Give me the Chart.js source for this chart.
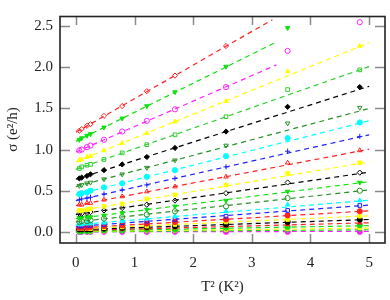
<!DOCTYPE html>
<html>
<head>
<meta charset="UTF-8">
<script src="https://cdn.jsdelivr.net/npm/chart.js"></script>
<style>
  body { margin: 0; background: #fff; }
  #wrap { width: 390px; height: 300px; }
</style>
</head>
<body>
<div id="wrap"><canvas id="c" width="390" height="300"></canvas></div>
<script>
// T^2 values (K^2) where points were measured
const t2 = [0.06, 0.10, 0.19, 0.25, 0.48, 0.79, 1.21, 1.69, 2.56, 3.61, 4.84];

// sigma (e^2/h), one row per curve, top to bottom
const sigma = [
  [1.23, 1.25, 1.29, 1.31, 1.41, 1.53, 1.71, 1.90, 2.26],
  [1.12, 1.14, 1.17, 1.19, 1.27, 1.38, 1.53, 1.70, 2.01, 2.48],
  [0.99, 1.00, 1.03, 1.05, 1.12, 1.22, 1.35, 1.49, 1.76, 2.20, 2.55],
  [0.87, 0.88, 0.91, 0.92, 0.99, 1.08, 1.20, 1.34, 1.59, 1.95, 2.26],
  [0.77, 0.79, 0.81, 0.82, 0.88, 0.96, 1.06, 1.18, 1.40, 1.73, 1.97],
  [0.65, 0.66, 0.68, 0.70, 0.75, 0.82, 0.91, 1.02, 1.22, 1.52, 1.76],
  [0.56, 0.57, 0.59, 0.60, 0.64, 0.70, 0.78, 0.87, 1.05, 1.32, 1.51],
  [0.46, 0.47, 0.48, 0.50, 0.54, 0.59, 0.67, 0.75, 0.92, 1.14, 1.33],
  [0.39, 0.40, 0.41, 0.42, 0.46, 0.51, 0.57, 0.65, 0.79, 0.98, 1.16],
  [0.33, 0.33, 0.35, 0.35, 0.39, 0.43, 0.49, 0.55, 0.67, 0.84, 0.99],
  [0.26, 0.26, 0.27, 0.28, 0.31, 0.34, 0.40, 0.45, 0.57, 0.71, 0.84],
  [0.22, 0.22, 0.23, 0.24, 0.26, 0.29, 0.33, 0.38, 0.47, 0.60, 0.72],
  [0.17, 0.17, 0.18, 0.18, 0.20, 0.23, 0.27, 0.31, 0.38, 0.49, 0.60],
  [0.12, 0.13, 0.13, 0.14, 0.16, 0.18, 0.21, 0.25, 0.31, 0.41, 0.50],
  [0.09, 0.09, 0.10, 0.10, 0.11, 0.13, 0.16, 0.19, 0.25, 0.33, 0.38],
  [0.07, 0.07, 0.08, 0.08, 0.09, 0.11, 0.13, 0.15, 0.19, 0.26, 0.32],
  [0.05, 0.05, 0.05, 0.06, 0.07, 0.08, 0.10, 0.12, 0.15, 0.20, 0.25],
  [0.04, 0.04, 0.04, 0.04, 0.05, 0.06, 0.07, 0.09, 0.12, 0.15, 0.19],
  [0.03, 0.03, 0.03, 0.03, 0.04, 0.05, 0.06, 0.07, 0.09, 0.12, 0.15],
  [0.02, 0.02, 0.02, 0.02, 0.03, 0.03, 0.04, 0.05, 0.07, 0.09, 0.11],
  [0.01, 0.01, 0.01, 0.02, 0.02, 0.02, 0.03, 0.03, 0.05, 0.06, 0.08],
  [0.01, 0.01, 0.01, 0.01, 0.01, 0.02, 0.02, 0.02, 0.03, 0.04, 0.05],
  [0.00, 0.00, 0.00, 0.00, 0.01, 0.01, 0.01, 0.01, 0.02, 0.02, 0.03],
  [0.00, 0.00, 0.00, 0.00, 0.00, 0.00, 0.00, 0.00, 0.00, 0.00, 0.00]
];

// linear fits: value at T^2 = 0, value at end, and where the fit line stops
const fitStart = [1.21, 1.10, 0.97, 0.85, 0.76, 0.64, 0.55, 0.45, 0.38, 0.32, 0.25, 0.21,
                  0.16, 0.12, 0.085, 0.065, 0.045, 0.035, 0.025, 0.015, 0.01, 0.005, 0.0, 0.0];
const fitEnd   = [2.58, 2.31, 2.03, 2.30, 2.01, 1.77, 1.50, 1.35, 1.18, 1.005, 0.85, 0.725,
                  0.61, 0.51, 0.385, 0.325, 0.255, 0.195, 0.15, 0.11, 0.075, 0.045, 0.025, 0.005];
const fitStop  = [3.35, 3.42, 3.42, 5, 5, 5, 5, 5, 5, 5, 5, 5, 5, 5, 5, 5, 5, 5, 5, 5, 5, 5, 5, 5];

const xTicks = [0, 1, 2, 3, 4, 5];
const yTicks = [0, 0.5, 1.0, 1.5, 2.0, 2.5];

// styles per curve
const colors = ['#ff2020', '#10e010', '#ff20ff', '#ffff00', '#30d030', '#000000', '#289028', '#00ffff',
                '#2020ff', '#ff2020', '#ffff00', '#000000', '#10e010', '#289028', '#00ffff', '#2020ff',
                '#ff2020', '#ffff00', '#000000', '#ff2020', '#10e010', '#ffff00', '#10e010', '#ff20ff'];
const shapes = [
  ['rectRot', 0, false], ['triangle', 180, true], ['circle', 0, false], ['triangle', 0, true],
  ['rect', 0, false], ['rectRot', 0, true], ['triangle', 180, false], ['circle', 0, true],
  ['cross', 0, false], ['triangle', 0, false], ['rect', 0, true], ['rectRot', 0, false],
  ['triangle', 180, true], ['circle', 0, false], ['triangle', 0, true], ['rect', 0, false],
  ['circle', 0, true], ['rect', 0, true], ['circle', 0, true], ['triangle', 0, true],
  ['circle', 0, true], ['rect', 0, true], ['triangle', 180, true], ['circle', 0, true]
];

const datasets = [];
sigma.forEach((row, i) => {
  datasets.push({
    data: [{ x: 0, y: fitStart[i] }, { x: fitStop[i], y: fitEnd[i] }],
    showLine: true,
    borderColor: colors[i],
    borderWidth: 1.2,
    borderDash: [5, 4],
    pointRadius: 0,
    order: 2
  });
});
sigma.forEach((row, i) => {
  const [style, rot, filled] = shapes[i];
  datasets.push({
    data: row.map((v, j) => ({ x: t2[j], y: v })),
    showLine: false,
    pointStyle: style,
    rotation: rot,
    pointRadius: 2.6,
    pointBorderWidth: 1,
    borderColor: colors[i],
    backgroundColor: filled ? colors[i] : 'rgba(0,0,0,0)',
    order: 1
  });
});

// inward ticks on all four sides + frame
const frame = {
  id: 'frame',
  afterDraw(chart) {
    const { ctx, chartArea: a, scales } = chart;
    ctx.save();
    ctx.strokeStyle = '#8a8a8a';
    ctx.lineWidth = 1.5;
    ctx.beginPath();
    xTicks.forEach(v => {
      const px = Math.round(scales.x.getPixelForValue(v)) + 0.5;
      ctx.moveTo(px, a.bottom); ctx.lineTo(px, a.bottom - 9);
      ctx.moveTo(px, a.top); ctx.lineTo(px, a.top + 9);
    });
    yTicks.forEach(v => {
      const py = Math.round(scales.y.getPixelForValue(v)) + 0.5;
      ctx.moveTo(a.left, py); ctx.lineTo(a.left + 10, py);
      ctx.moveTo(a.right, py); ctx.lineTo(a.right - 10, py);
    });
    ctx.stroke();
    ctx.strokeStyle = '#222';
    ctx.lineWidth = 1.6;
    ctx.strokeRect(a.left, a.top + 0.5, a.right - a.left, a.bottom - a.top - 0.5);
    ctx.restore();
  }
};

const serif = 'Liberation Serif';

new Chart(document.getElementById('c'), {
  type: 'scatter',
  data: { datasets },
  options: {
    responsive: false,
    animation: false,
    layout: { padding: { top: 0, right: 1, left: 0, bottom: 0 } },
    plugins: { legend: { display: false }, tooltip: { enabled: false } },
    scales: {
      x: {
        min: -0.27, max: 5.27,
        grid: { display: false, drawTicks: false },
        border: { display: false },
        afterBuildTicks: s => { s.ticks = xTicks.map(v => ({ value: v })); },
        afterFit: s => { s.height = 57; },
        ticks: { padding: 11, color: '#222', font: { family: serif, size: 15 }, callback: v => v },
        title: { display: true, text: 'T² (K²)', color: '#222', font: { family: serif, size: 15 }, padding: { top: 0, bottom: 4 } }
      },
      y: {
        min: -0.136, max: 2.625,
        grid: { display: false, drawTicks: false },
        border: { display: false },
        afterBuildTicks: s => { s.ticks = yTicks.map(v => ({ value: v })); },
        afterFit: s => { s.width = 60; },
        ticks: { padding: 7, color: '#222', font: { family: serif, size: 15 }, callback: v => v.toFixed(1) },
        title: { display: true, text: 'σ (e²/h)', color: '#222', font: { family: serif, size: 15 }, padding: { top: 4, bottom: 0 } }
      }
    }
  },
  plugins: [frame]
});
</script>
</body>
</html>
